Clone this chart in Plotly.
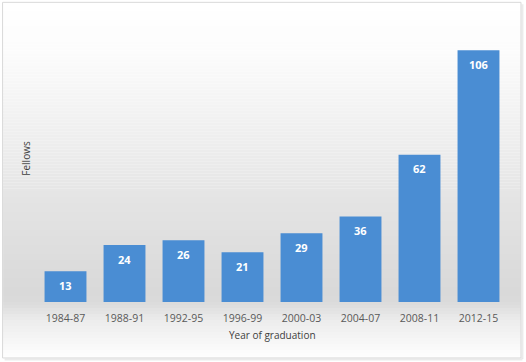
import plotly.graph_objects as go

categories = ["1984-87", "1988-91", "1992-95", "1996-99", "2000-03", "2004-07", "2008-11", "2012-15"]
fellows = [13, 24, 26, 21, 29, 36, 62, 106]

W, H = 526, 362
L, R, T, B = 35.5, 17.5, 28.7, 60
pw, ph = W - L - R, H - T - B

def px(x):
    return (x - L) / pw

def py(y):
    return (H - B - y) / ph

# background gradient stops (pixel y, grey level)
stops = [(2, 255), (50, 252), (120, 241), (200, 228), (290, 217), (302, 218), (320, 236), (358, 255)]

def level(y):
    for (y0, c0), (y1, c1) in zip(stops, stops[1:]):
        if y0 <= y <= y1:
            return c0 + (c1 - c0) * (y - y0) / (y1 - y0)
    return 255

shapes = []
step = 3
y = 2
while y < 358:
    y2 = min(y + step, 358)
    g = int(round(level((y + y2) / 2)))
    shapes.append(dict(type="rect", xref="paper", yref="paper", x0=px(2.5), x1=px(521.5),
                       y0=py(y2), y1=py(y), fillcolor=f"rgb({g},{g},{g})", line=dict(width=0), layer="below"))
    y = y2
# shadow + border
shapes.append(dict(type="line", xref="paper", yref="paper", x0=px(523), x1=px(523), y0=py(359), y1=py(4),
                   line=dict(color="rgba(0,0,0,0.08)", width=2), layer="below"))
shapes.append(dict(type="line", xref="paper", yref="paper", x0=px(4), x1=px(523), y0=py(359.5), y1=py(359.5),
                   line=dict(color="rgba(0,0,0,0.08)", width=2), layer="below"))
shapes.append(dict(type="rect", xref="paper", yref="paper", x0=px(2), x1=px(521.5), y0=py(358), y1=py(2),
                   line=dict(color="#d9d9d9", width=1), fillcolor="rgba(0,0,0,0)", layer="below"))

fig = go.Figure(go.Bar(
    x=categories, y=fellows,
    marker=dict(color="#4a8dd3", line=dict(width=0)),
    width=0.71,
    hoverinfo="x+y",
))

annotations = []
for c, v in zip(categories, fellows):
    annotations.append(dict(x=c, y=v, xref="x", yref="y", text=f"<b>{v}</b>", showarrow=False,
                            yanchor="middle", yshift=-14,
                            font=dict(family="Open Sans", size=11, color="white")))
annotations.append(dict(x=0.5, xref="paper", y=py(335), yref="paper", text="Year of graduation",
                        showarrow=False, yanchor="middle",
                        font=dict(family="Open Sans", size=10, color="#404040")))
annotations.append(dict(x=px(26), xref="paper", y=py(158), yref="paper", text="Fellows", textangle=-90,
                        showarrow=False, xanchor="center", yanchor="middle",
                        font=dict(family="Open Sans", size=10, color="#404040")))

fig.update_layout(
    width=W, height=H,
    margin=dict(l=L, r=R, t=T, b=B),
    paper_bgcolor="white", plot_bgcolor="rgba(0,0,0,0)",
    shapes=shapes, annotations=annotations,
    showlegend=False,
    xaxis=dict(type="category", showgrid=False, zeroline=False, showline=False, ticks="",
               ticklabelstandoff=8,
               tickfont=dict(family="Open Sans", size=10.5, color="#595959")),
    yaxis=dict(range=[0, 115], showgrid=False, zeroline=False, showline=False,
               showticklabels=False, ticks=""),
)

fig.write_html("out.html", config={"displayModeBar": False},
               post_script="document.body.style.margin='0';document.body.style.padding='0';")
